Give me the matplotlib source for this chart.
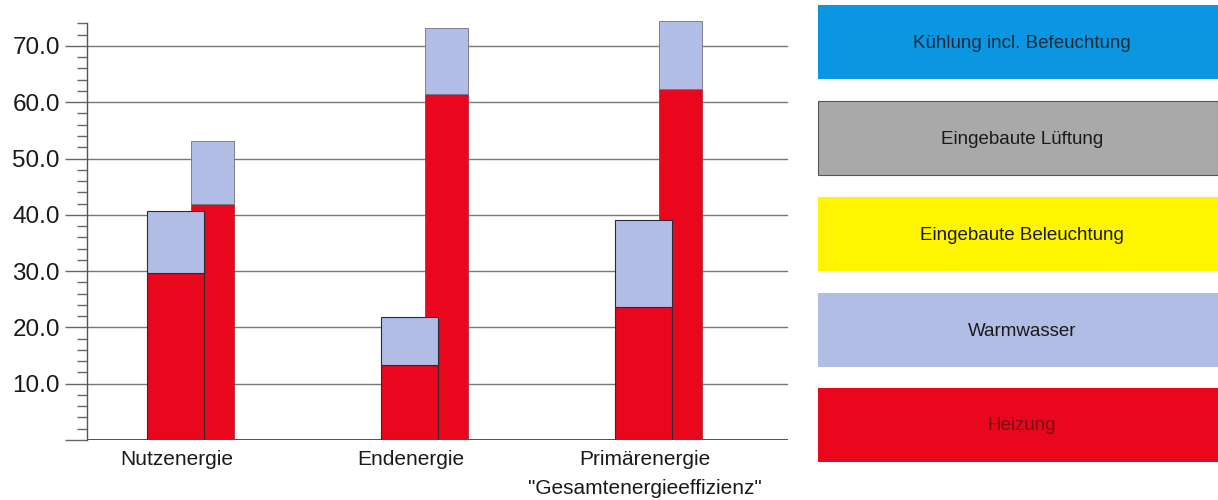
import matplotlib
matplotlib.use("Agg")
import matplotlib.pyplot as plt
from matplotlib.patches import Rectangle
from matplotlib.ticker import FixedLocator, FuncFormatter
import numpy as np

plt.rcParams['font.family'] = ['Liberation Sans', 'DejaVu Sans']

# ---- data ----
categories = ['Nutzenergie', 'Endenergie', 'Primärenergie\n"Gesamtenergieeffizienz"']
heizung_a = [29.7, 13.3, 23.7]
warmwasser_a = [11.0, 8.5, 15.4]
heizung_b = [41.9, 61.5, 62.3]
warmwasser_b = [11.2, 11.6, 12.2]

legend_labels = ['Kühlung incl. Befeuchtung', 'Eingebaute Lüftung',
                 'Eingebaute Beleuchtung', 'Warmwasser', 'Heizung']
legend_colors = ['#0a96e0', '#a9a9a9', '#fff500', '#b2bde6', '#e8071d']
legend_text_colors = ['#1a2a3a', '#1a1a1a', '#1a1a1a', '#1a1a1a', '#7a1010']

red = '#e8071d'
lightblue = '#b2bde6'

W, H = 1218, 500
fig = plt.figure(figsize=(W / 100, H / 100), dpi=100)

ppu = 5.63  # pixels per unit
ymax = 78
ax_left, ax_right, ax_bottom = 87, 788, 440
ax = fig.add_axes([ax_left / W, (H - ax_bottom) / H,
                   (ax_right - ax_left) / W, ymax * ppu / H])

x = np.arange(1, len(categories) + 1)
wa, wb = 0.244, 0.186
off_b = 0.152
off_a = -0.006

# right (b) bars first, then left (a) bars on top
ax.bar(x + off_b, heizung_b, wb, color=red, edgecolor='#b0303a', linewidth=0.6, zorder=2)
ax.bar(x + off_b, warmwasser_b, wb, bottom=heizung_b, color=lightblue,
       edgecolor='#707080', linewidth=0.6, zorder=2)
ax.bar(x + off_a, heizung_a, wa, color=red, edgecolor='#3a2a30', linewidth=0.8, zorder=3)
ax.bar(x + off_a, warmwasser_a, wa, bottom=heizung_a, color=lightblue,
       edgecolor='#2a2a3a', linewidth=0.8, zorder=3)

ax.set_xlim(1 - 90 / 234, 1 + (ax_right - 177) / 234)
ax.set_ylim(0, ymax)

for s in ['top', 'right', 'bottom']:
    ax.spines[s].set_visible(False)
ax.spines['left'].set_bounds(0, 74)
ax.spines['left'].set_color('#555555')
ax.spines['left'].set_linewidth(1.0)

majors = [0, 10, 20, 30, 40, 50, 60, 70]
ax.yaxis.set_major_locator(FixedLocator(majors))
ax.yaxis.set_minor_locator(FixedLocator([v for v in np.arange(2, 76, 2) if v % 10 != 0]))
ax.yaxis.set_major_formatter(FuncFormatter(lambda v, p: '' if v == 0 else f'{v:.1f}'))
ax.tick_params(axis='y', which='major', length=15.5, width=1.0, color='#666666',
               labelsize=17.5, pad=4, labelcolor='#1a1a1a')
ax.tick_params(axis='y', which='minor', length=7.5, width=1.0, color='#666666')

for v in majors:
    ax.axhline(v, color='#222222' if v == 0 else '#777777',
               linewidth=1.1 if v == 0 else 1.0, zorder=1)

ax.set_xticks(x)
ax.set_xticklabels(categories, fontsize=15, color='#1a1a1a', linespacing=1.7)
ax.tick_params(axis='x', length=0, pad=7)

# legend panel
lax = fig.add_axes([0, 0, 1, 1])
lax.set_xlim(0, W)
lax.set_ylim(H, 0)
lax.axis('off')
box_left, box_right = 818, 1218
box_tops = [5, 101, 197, 293, 388]
box_h = 74
for lbl, col, tcol, top in zip(legend_labels, legend_colors, legend_text_colors, box_tops):
    ec = '#555555' if lbl == 'Eingebaute Lüftung' else 'none'
    lax.add_patch(Rectangle((box_left, top), box_right - box_left, box_h,
                            facecolor=col, edgecolor=ec, linewidth=0.8))
    lax.text((box_left + box_right) / 2 + 4, top + box_h / 2 + 1, lbl, ha='center', va='center',
             fontsize=13.5, color=tcol)

fig.savefig('out.png', dpi=100)
